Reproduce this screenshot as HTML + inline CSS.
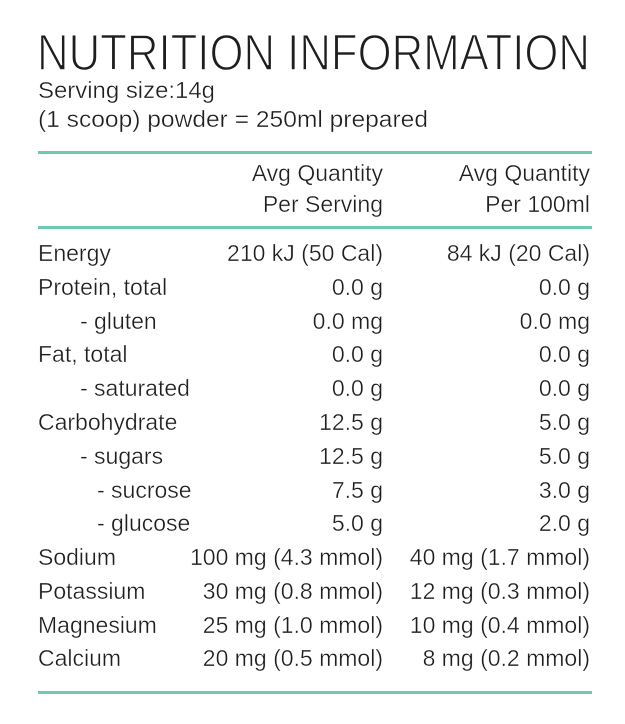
<!DOCTYPE html>
<html><head><style>body{margin:0;background:#fff}svg{display:block}</style></head><body>
<svg width="625" height="724" viewBox="0 0 625 724" xmlns="http://www.w3.org/2000/svg" font-family="Liberation Sans, sans-serif" fill="#1e1e1e">
<rect width="625" height="724" fill="#fff"/>
<text x="37" y="70" font-size="51" textLength="553" lengthAdjust="spacingAndGlyphs" stroke="#fff" stroke-width="1.4">NUTRITION INFORMATION</text>
<g stroke="#fff" stroke-width="0.35">
<text x="38" y="98" font-size="23" textLength="177" lengthAdjust="spacingAndGlyphs">Serving size:14g</text>
<text x="38" y="127" font-size="23" textLength="390" lengthAdjust="spacingAndGlyphs">(1 scoop) powder = 250ml prepared</text>
</g>
<rect x="38" y="151" width="554" height="3" fill="#6ccab3"/>
<rect x="38" y="226" width="554" height="3" fill="#6ccab3"/>
<rect x="38" y="691" width="554" height="3" fill="#6ccab3"/>
<g font-size="23" text-anchor="end" stroke="#fff" stroke-width="0.35">
<text x="383" y="181">Avg Quantity</text><text x="383" y="212">Per Serving</text>
<text x="590" y="181">Avg Quantity</text><text x="590" y="212">Per 100ml</text>
</g>
<g font-size="23" stroke="#fff" stroke-width="0.35">
<text x="38" y="261">Energy</text>
<text x="38" y="295">Protein, total</text>
<text x="80" y="329">- gluten</text>
<text x="38" y="362">Fat, total</text>
<text x="80" y="396">- saturated</text>
<text x="38" y="430">Carbohydrate</text>
<text x="80" y="464">- sugars</text>
<text x="97" y="498">- sucrose</text>
<text x="97" y="531">- glucose</text>
<text x="38" y="565">Sodium</text>
<text x="38" y="599">Potassium</text>
<text x="38" y="633">Magnesium</text>
<text x="38" y="666">Calcium</text>
</g>
<g font-size="23" text-anchor="end" stroke="#fff" stroke-width="0.35">
<text x="383" y="261">210 kJ (50 Cal)</text><text x="590" y="261">84 kJ (20 Cal)</text>
<text x="383" y="295">0.0 g</text><text x="590" y="295">0.0 g</text>
<text x="383" y="329">0.0 mg</text><text x="590" y="329">0.0 mg</text>
<text x="383" y="362">0.0 g</text><text x="590" y="362">0.0 g</text>
<text x="383" y="396">0.0 g</text><text x="590" y="396">0.0 g</text>
<text x="383" y="430">12.5 g</text><text x="590" y="430">5.0 g</text>
<text x="383" y="464">12.5 g</text><text x="590" y="464">5.0 g</text>
<text x="383" y="498">7.5 g</text><text x="590" y="498">3.0 g</text>
<text x="383" y="531">5.0 g</text><text x="590" y="531">2.0 g</text>
<text x="383" y="565">100 mg (4.3 mmol)</text><text x="590" y="565">40 mg (1.7 mmol)</text>
<text x="383" y="599">30 mg (0.8 mmol)</text><text x="590" y="599">12 mg (0.3 mmol)</text>
<text x="383" y="633">25 mg (1.0 mmol)</text><text x="590" y="633">10 mg (0.4 mmol)</text>
<text x="383" y="666">20 mg (0.5 mmol)</text><text x="590" y="666">8 mg (0.2 mmol)</text>
</g>
</svg>
</body></html>
